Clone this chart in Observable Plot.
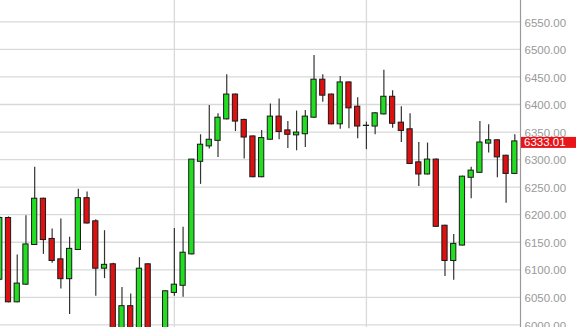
<!DOCTYPE html>
<html><head><meta charset="utf-8">
<script src="https://cdn.jsdelivr.net/npm/d3@7"></script>
<script src="https://cdn.jsdelivr.net/npm/@observablehq/plot@0.6"></script>
<style>
html,body{margin:0;padding:0;background:#fff;}
#chart svg{display:block;overflow:hidden;}
</style></head><body><div id="chart"></div>
<script>
// Daily OHLC candles (left to right)
const opens  = [6082,6194,6041,6073,6145,6229,6156,6119,6083,6136,6230,6188,6102,6110,5978,6034,5972,6110,5980,5955,6058,6071,6128,6296,6324,6334,6373,6418,6372,6342,6268,6336,6378,6353,6344,6346,6376,6445,6418,6364,6440,6396,6361,6360,6382,6414,6367,6355,6295,6273,6300,6180,6116,6144,6267,6276,6329,6335,6307,6274];
const highs  = [6196,6196,6127,6198,6286,6230,6174,6192,6159,6246,6241,6191,6171,6112,6068,6056,6122,6111,5988,6062,6175,6177,6300,6345,6398,6383,6454,6419,6373,6343,6353,6401,6410,6369,6388,6389,6489,6454,6419,6451,6441,6412,6368,6385,6462,6425,6396,6383,6331,6330,6301,6181,6164,6270,6286,6369,6363,6336,6308,6345];
const lows   = [6080,6040,6040,6072,6144,6128,6112,6065,6019,6135,6183,6052,6084,5960,5965,5955,5965,5955,5930,5950,6052,6050,6127,6255,6319,6304,6372,6351,6301,6267,6267,6335,6336,6320,6316,6322,6375,6404,6363,6355,6356,6338,6318,6345,6381,6357,6331,6291,6251,6272,6177,6088,6081,6143,6229,6275,6312,6267,6221,6273];
const closes = [6194,6041,6075,6146,6229,6154,6116,6083,6138,6230,6184,6102,6109,5975,6034,5970,6102,5970,5950,6061,6073,6131,6300,6327,6336,6376,6418,6369,6340,6268,6339,6378,6350,6345,6349,6378,6445,6416,6364,6440,6393,6360,6361.5,6384,6414,6365,6352,6292,6273,6300,6178,6116,6147,6269,6280,6331,6335,6304,6274,6333.01];
// candle indices where a new month starts (vertical grid lines)
const monthStarts = [20, 42];
// price axis ticks
const yTicks = d3.range(6000, 6551, 50);
const lastPrice = closes[closes.length - 1];

const green = "#22dd22", red = "#dd1111";
const data = opens.map((o, i) => ({i, open: o, high: highs[i], low: lows[i], close: closes[i]}));
const xDomain = [0.084, data.length - 1 + 0.65];
const bw = 0.30;
const W = 576, H = 327, MR = 56;
const font = "'Liberation Sans', Arial, sans-serif";

const chart = Plot.plot({
  width: W, height: H,
  marginTop: 0, marginBottom: 0, marginLeft: 0, marginRight: MR,
  style: {background: "#fff", fontFamily: font, overflow: "hidden"},
  x: {type: "linear", domain: xDomain, axis: null},
  y: {domain: [5995.3, 6588.7], axis: null},
  marks: [
    Plot.ruleY(yTicks, {stroke: "#d9d9d9", strokeWidth: 1.3}),
    Plot.ruleX(monthStarts, {stroke: "#d9d9d9", strokeWidth: 1.3}),
    Plot.ruleX(data, {x: "i", y1: "low", y2: "high", stroke: "#333", strokeWidth: 1.2, clip: true}),
    Plot.rect(data, {
      x1: d => d.i - bw, x2: d => d.i + bw, y1: "open", y2: "close",
      fill: d => d.close >= d.open ? green : red,
      stroke: "#1a1a1a", strokeWidth: 1, clip: true
    }),
    Plot.ruleX([xDomain[1]], {stroke: "#999", strokeWidth: 1.2}),
    Plot.axisY(yTicks, {anchor: "right", tickSize: 0, tickPadding: 4, label: null,
      tickFormat: d => d.toFixed(2), fill: "#999", fontSize: 11.5, dy: 1})
  ]
});
document.getElementById("chart").appendChild(chart);

// last-price tag on the price axis
const ys = chart.scale("y");
const xEdge = W - MR;
const yp = ys.apply(lastPrice);
const svg = d3.select(chart);
const tag = svg.append("g");
tag.append("rect").attr("x", xEdge + 1).attr("y", yp - 4).attr("width", W - xEdge - 1).attr("height", 11).attr("fill", "#e8141a");
tag.append("text").attr("x", xEdge + 4).attr("y", yp + 1.5).attr("dy", "0.32em")
  .attr("text-anchor", "start")
  .attr("fill", "#fff").attr("font-size", 11.5).attr("font-family", font)
  .text(lastPrice.toFixed(2));
</script></body></html>
